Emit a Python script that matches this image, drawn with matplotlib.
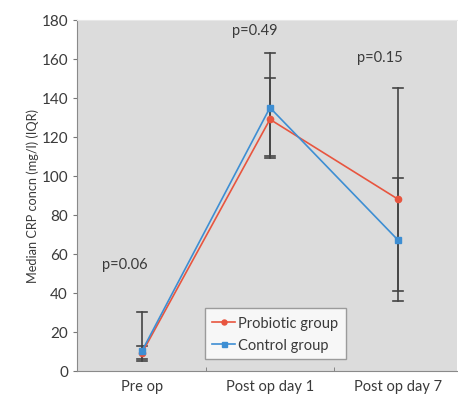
import numpy as np
import matplotlib
matplotlib.use("Agg")
import matplotlib.pyplot as plt

# dados
categorias = ["Pre op", "Post op day 1", "Post op day 7"]
probiotico = [9, 129, 88]
controle = [10, 135, 67]
# intervalos interquartis (inferior, superior)
iqr_probiotico = [(5, 30), (110, 163), (41, 145)]
iqr_controle = [(6, 13), (109, 150), (36, 99)]
p_valores = ["p=0.06", "p=0.49", "p=0.15"]
p_posicoes = [(-0.31, 55), (0.70, 175), (1.68, 161)]

plt.rcParams["font.family"] = ["Lato", "DejaVu Sans"]
cor_texto = "#3a3a3a"

fig = plt.figure(figsize=(4.58, 4.02), dpi=100)
ax = fig.add_axes([0.168, 0.075, 0.83, 0.873])
ax.set_facecolor("#dcdcdc")

x = np.arange(len(categorias))

# barras de erro (IQR) em cinza escuro
for iqr in (iqr_probiotico, iqr_controle):
    for xi, (lo, hi) in zip(x, iqr):
        ax.plot([xi, xi], [lo, hi], color="#444444", lw=1.2, zorder=2)
        ax.plot([xi - 0.04, xi + 0.04], [lo, lo], color="#444444", lw=1.2, zorder=2)
        ax.plot([xi - 0.04, xi + 0.04], [hi, hi], color="#444444", lw=1.2, zorder=2)

ax.plot(x, probiotico, color="#e8553f", marker="o", ms=4.5, lw=1.2,
        label="Probiotic group", zorder=3)
ax.plot(x, controle, color="#3d8ed3", marker="s", ms=4.5, lw=1.2,
        label="Control group", zorder=4)

for txt, (px, py) in zip(p_valores, p_posicoes):
    ax.text(px, py, txt, fontsize=10.5, color=cor_texto, ha="left", va="center")

ax.set_xlim(-0.506, 2.46)
ax.set_ylim(0, 180)
ax.set_yticks(range(0, 181, 20))
ax.set_xticks(x)
ax.set_xticklabels(categorias)
ax.set_xticks([0.5, 1.5], minor=True)
ax.tick_params(axis="x", which="major", length=0, labelsize=10.5, colors=cor_texto, pad=6)
ax.tick_params(axis="x", which="minor", length=3, direction="in", color="#777777")
ax.tick_params(axis="y", length=3, labelsize=11, colors=cor_texto, color="#777777")
ax.set_ylabel("Median CRP concn (mg/l) (IQR)", fontsize=9.2, color=cor_texto, labelpad=2)

ax.spines["right"].set_visible(False)
for lado in ["left", "bottom"]:
    ax.spines[lado].set_color("#8a8a8a")
ax.spines["top"].set_color("#e8e8e8")

leg = ax.legend(loc="lower left", bbox_to_anchor=(0.336, 0.034), fontsize=10.5,
                frameon=True, fancybox=False, edgecolor="#888888",
                handlelength=1.6, borderpad=0.5, labelspacing=0.55,
                handletextpad=0.2, markerscale=0.8, borderaxespad=0)
leg.get_frame().set_facecolor("white")
for t in leg.get_texts():
    t.set_color(cor_texto)

fig.savefig("out.png", dpi=100)
